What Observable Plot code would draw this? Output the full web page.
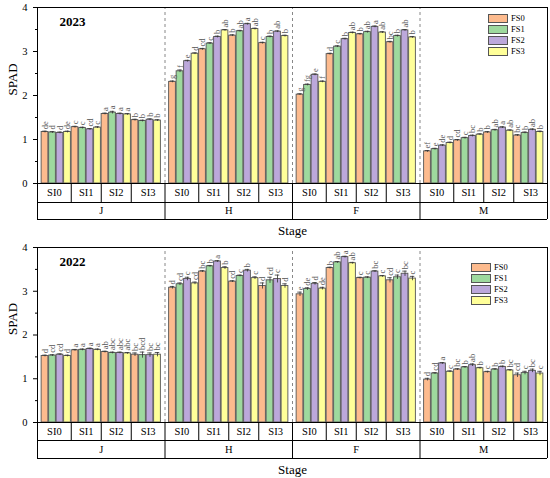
<!DOCTYPE html>
<html>
<head>
<meta charset="utf-8">
<script src="https://cdn.jsdelivr.net/npm/d3@7"></script>
<script src="https://cdn.jsdelivr.net/npm/@observablehq/plot@0.6"></script>
<style>
  html, body { margin: 0; padding: 0; background: #fff; }
  #wrap { position: relative; width: 550px; height: 478px; background: #fff; font-family: 'Liberation Serif'; }
  #wrap svg { display: block; }
  .legend { position: absolute; font: 8.5px 'Liberation Serif'; line-height: 11px; }
  .legend .item { display: flex; align-items: center; height: 11px; }
  .legend .sw { width: 18px; height: 7px; border: 1px solid #555; margin-right: 3px; }
</style>
</head>
<body>
<div id="wrap"></div>
<script>
// ---- categories ----
const stages = ["J", "H", "F", "M"];
const sis = ["SI0", "SI1", "SI2", "SI3"];
const fss = ["FS0", "FS1", "FS2", "FS3"];
const colors = ["#FDBB8E", "#9ED99E", "#BCA8DB", "#FFFF99"];
const yTicks = [0, 1, 2, 3, 4];
const FONT = "Liberation Serif";

// ---- 2023 (order: stage J,H,F,M; within stage SI0..SI3; within SI FS0..FS3) ----
const spad2023 = [
  1.17, 1.16, 1.15, 1.17, 1.28, 1.26, 1.23, 1.27, 1.58, 1.61, 1.58, 1.57, 1.44, 1.42, 1.45, 1.43,
  2.31, 2.55, 2.78, 2.95, 3.05, 3.18, 3.33, 3.48, 3.36, 3.46, 3.62, 3.51, 3.19, 3.33, 3.45, 3.35,
  2.02, 2.24, 2.47, 2.31, 2.94, 3.11, 3.28, 3.42, 3.39, 3.44, 3.56, 3.43, 3.21, 3.35, 3.48, 3.32,
  0.73, 0.78, 0.86, 0.92, 0.98, 1.03, 1.08, 1.11, 1.16, 1.21, 1.27, 1.20, 1.09, 1.15, 1.22, 1.17
];
const err2023 = [
  0.02, 0.02, 0.02, 0.02, 0.02, 0.02, 0.02, 0.02, 0.02, 0.03, 0.02, 0.02, 0.02, 0.02, 0.02, 0.02,
  0.02, 0.03, 0.02, 0.02, 0.02, 0.02, 0.02, 0.02, 0.02, 0.02, 0.02, 0.02, 0.02, 0.02, 0.02, 0.02,
  0.02, 0.02, 0.02, 0.02, 0.02, 0.02, 0.02, 0.02, 0.02, 0.02, 0.02, 0.02, 0.02, 0.02, 0.02, 0.02,
  0.02, 0.02, 0.02, 0.02, 0.02, 0.02, 0.02, 0.02, 0.02, 0.02, 0.02, 0.02, 0.02, 0.02, 0.02, 0.02
];
const letters2023 = [
  "de", "d", "d", "de", "c", "c", "cd", "c", "a", "a", "a", "a", "b", "b", "b", "b",
  "g", "f", "e", "d", "cd", "c", "b", "ab", "b", "ab", "a", "ab", "c", "b", "ab", "b",
  "g", "fg", "e", "f", "d", "c", "b", "ab", "b", "ab", "a", "ab", "bc", "b", "ab", "b",
  "ef", "e", "de", "d", "cd", "c", "bc", "b", "b", "ab", "a", "ab", "bc", "b", "ab", "b"
];

// ---- 2022 ----
const spad2022 = [
  1.52, 1.53, 1.55, 1.52, 1.65, 1.66, 1.68, 1.66, 1.61, 1.59, 1.59, 1.58, 1.55, 1.54, 1.54, 1.55,
  3.08, 3.16, 3.28, 3.18, 3.45, 3.57, 3.68, 3.53, 3.22, 3.35, 3.47, 3.30, 3.12, 3.25, 3.28, 3.12,
  2.93, 3.05, 3.17, 3.06, 3.53, 3.66, 3.78, 3.64, 3.30, 3.31, 3.45, 3.34, 3.25, 3.32, 3.40, 3.29,
  0.98, 1.12, 1.35, 1.16, 1.21, 1.26, 1.31, 1.24, 1.15, 1.21, 1.27, 1.19, 1.08, 1.13, 1.18, 1.12
];
const err2022 = [
  0.02, 0.02, 0.02, 0.02, 0.02, 0.02, 0.02, 0.02, 0.02, 0.02, 0.02, 0.02, 0.04, 0.07, 0.05, 0.05,
  0.03, 0.03, 0.04, 0.03, 0.02, 0.02, 0.02, 0.03, 0.02, 0.02, 0.03, 0.03, 0.07, 0.07, 0.09, 0.05,
  0.05, 0.03, 0.03, 0.03, 0.02, 0.02, 0.02, 0.02, 0.02, 0.02, 0.02, 0.02, 0.06, 0.05, 0.06, 0.05,
  0.03, 0.02, 0.02, 0.02, 0.02, 0.02, 0.03, 0.02, 0.02, 0.02, 0.02, 0.02, 0.05, 0.04, 0.04, 0.05
];
const letters2022 = [
  "d", "cd", "cd", "d", "a", "a", "a", "a", "ab", "abc", "abc", "abc", "bc", "bcd", "bc", "bc",
  "d", "cd", "c", "cd", "bc", "b", "a", "b", "cd", "c", "b", "c", "d", "cd", "c", "d",
  "e", "de", "d", "de", "b", "ab", "a", "ab", "c", "c", "bc", "c", "cd", "c", "bc", "c",
  "d", "cd", "a", "c", "bc", "b", "ab", "b", "c", "b", "b", "bc", "cd", "c", "bc", "c"
];

// ---- build tables ----
const SLOT = 17; // slots per stage: 16 bars + half-slot padding each side
function rows(vals, errs, lets) {
  const out = [];
  stages.forEach((st, s) => sis.forEach((si, i) => fss.forEach((fs, f) => {
    const k = s * 16 + i * 4 + f;
    out.push({stage: st, si, fs, pos: s * SLOT + i * 4 + f + 1, value: vals[k], err: errs[k], letter: lets[k]});
  })));
  return out;
}
const siBounds = [0, 4.5, 8.5, 12.5, 17];
const siCells = [];
stages.forEach((st, s) => sis.forEach((si, i) => {
  siCells.push({label: si, x: s * SLOT + (siBounds[i] + siBounds[i + 1]) / 2, sep: s * SLOT + siBounds[i + 1]});
}));
const stageCells = stages.map((st, s) => ({label: st, x: s * SLOT + SLOT / 2}));
const stageSeps = d3.range(stages.length + 1).map(s => s * SLOT);

function panel(data, year, mt, rowSIpx, rowSTpx) {
  const height = 239, mb = 56, ml = 37, mr = 3;
  const plotH = height - mt - mb;
  const u = 4 / plotH;
  const rSI = rowSIpx * u, rST = rowSTpx * u;
  const xMax = stages.length * SLOT;
  const svg = Plot.plot({
    width: 550, height,
    marginTop: mt, marginBottom: mb, marginLeft: ml, marginRight: mr,
    style: {fontFamily: FONT, fontSize: "10px", background: "#fff", overflow: "visible", color: "#000"},
    x: {domain: [0, xMax], axis: null},
    y: {domain: [0, 4], axis: null},
    color: {domain: fss, range: colors},
    marks: [
      Plot.ruleX(stageSeps.slice(1, -1), {y1: 0, y2: 4, stroke: "#888", strokeDasharray: "3,3"}),
      Plot.rect(data, {x1: d => d.pos - 0.45, x2: d => d.pos + 0.45, y1: 0, y2: "value", fill: "fs", stroke: "#555", strokeWidth: 0.9}),
      Plot.ruleX(data, {x: "pos", y1: d => d.value - d.err, y2: d => d.value + d.err, stroke: "#333", strokeWidth: 0.8}),
      Plot.ruleY(data, {y: d => d.value + d.err, x1: d => d.pos - 0.3, x2: d => d.pos + 0.3, stroke: "#333", strokeWidth: 0.8}),
      Plot.text(data, {x: "pos", y: d => d.value + d.err, text: "letter", rotate: -90, textAnchor: "start", lineAnchor: "middle", dy: -2, fontSize: 8.5, fill: "#555", fontFamily: FONT}),
      Plot.frame({stroke: "#000"}),
      Plot.axisY({ticks: yTicks, tickSize: 4, tickPadding: 6, tickFormat: d3.format("d"), fontSize: 10.5, fontFamily: FONT, label: null}),
      Plot.axisY({ticks: [0.5, 1.5, 2.5, 3.5], tickSize: 2, tickFormat: () => "", label: null}),
      // category table under the plot
      Plot.ruleY([-rSI, -rSI - rST], {x1: 0, x2: xMax, stroke: "#000"}),
      Plot.ruleX(siCells.filter((d, i) => i % 4 !== 3), {x: "sep", y1: 0, y2: -rSI, stroke: "#000"}),
      Plot.ruleX(stageSeps, {y1: 0, y2: -rSI - rST, stroke: "#000"}),
      Plot.text(siCells, {x: "x", y: -rSI / 2, text: "label", fontSize: 10.5, fontFamily: FONT}),
      Plot.text(stageCells, {x: "x", y: -rSI - rST / 2, text: "label", fontSize: 10.5, fontFamily: FONT}),
      Plot.text(["Stage"], {x: xMax / 2, y: -rSI - rST, dy: 11, text: d => d, fontSize: 13, fontFamily: FONT}),
      Plot.text(["SPAD"], {frameAnchor: "left", dx: -25, rotate: -90, text: d => d, fontSize: 13, fontFamily: FONT}),
      Plot.text([year], {frameAnchor: "top-left", dx: 22, dy: 9, text: d => d, textAnchor: "start", fontSize: 13, fontWeight: "bold", fontFamily: FONT})
    ]
  });
  return svg;
}

function legend(left, top) {
  const div = document.createElement("div");
  div.className = "legend";
  div.style.left = left + "px";
  div.style.top = top + "px";
  fss.forEach((fs, i) => {
    const it = document.createElement("div");
    it.className = "item";
    const sw = document.createElement("div");
    sw.className = "sw";
    sw.style.background = colors[i];
    const t = document.createElement("span");
    t.textContent = fs;
    it.appendChild(sw); it.appendChild(t);
    div.appendChild(it);
  });
  return div;
}

const wrap = document.getElementById("wrap");
wrap.appendChild(panel(rows(spad2023, err2023, letters2023), "2023", 7, 19, 17));
wrap.appendChild(panel(rows(spad2022, err2022, letters2022), "2022", 8, 18, 18));
wrap.appendChild(legend(488, 13));
wrap.appendChild(legend(471, 262));
</script>
</body>
</html>
